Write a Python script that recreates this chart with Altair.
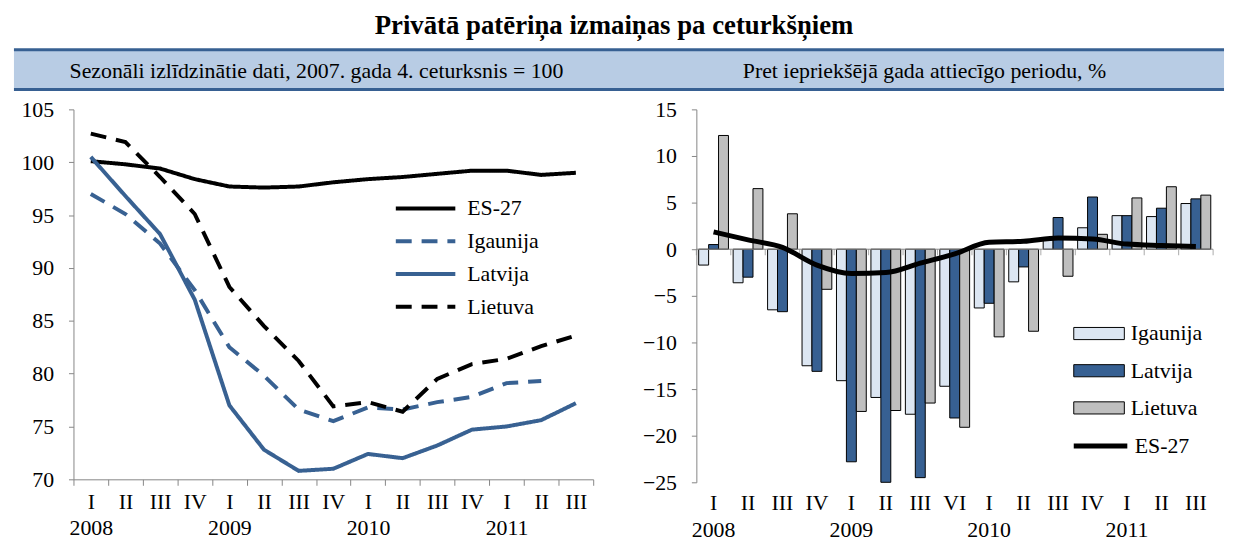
import altair as alt
import pandas as pd

FONT = "Liberation Serif"
GRAY = "#868686"
BLUE = "#386192"

# ---------------- data ----------------
years = ["2008"] * 4 + ["2009"] * 4 + ["2010"] * 4 + ["2011"] * 3
quarters_left = ["I", "II", "III", "IV", "I", "II", "III", "IV", "I", "II", "III", "IV", "I", "II", "III"]
quarters_right = ["I", "II", "III", "IV", "I", "II", "III", "VI", "I", "II", "III", "IV", "I", "II", "III"]

series_left = ["ES-27", "Igaunija", "Latvija", "Lietuva"]
es27_idx = [100.1, 99.8, 99.4, 98.4, 97.7, 97.6, 97.7, 98.1, 98.4, 98.6, 98.9, 99.2, 99.2, 98.8, 99.0]
igaunija_idx = [97.0, 95.1, 92.3, 87.9, 82.5, 79.8, 76.6, 75.5, 76.8, 76.6, 77.3, 77.8, 79.1, 79.3, None]
latvija_idx = [100.5, 96.8, 93.2, 87.0, 77.0, 72.8, 70.8, 71.0, 72.4, 72.0, 73.2, 74.7, 75.0, 75.6, 77.2]
lietuva_idx = [102.7, 101.9, 98.6, 95.1, 88.2, 84.5, 81.2, 76.9, 77.3, 76.4, 79.5, 80.9, 81.4, 82.6, 83.6]

series_bars = ["Igaunija", "Latvija", "Lietuva"]
igaunija_yoy = [-1.7, -3.6, -6.5, -12.5, -14.1, -15.9, -17.7, -14.7, -6.3, -3.5, 1.0, 2.3, 3.6, 3.5, 4.9]
latvija_yoy = [0.5, -3.0, -6.7, -13.1, -22.8, -25.0, -24.5, -18.1, -5.8, -1.9, 3.4, 5.6, 3.6, 4.4, 5.4]
lietuva_yoy = [12.2, 6.5, 3.8, -4.3, -17.4, -17.3, -16.5, -19.1, -9.4, -8.8, -2.9, 1.6, 5.5, 6.7, 5.8]
es27_yoy = [1.85, 1.0, 0.2, -1.7, -2.6, -2.5, -1.5, -0.5, 0.75, 0.85, 1.2, 1.1, 0.55, 0.4, 0.3]

title_text = "Privātā patēriņa izmaiņas pa ceturkšņiem"
subtitle_left = "Sezonāli izlīdzinātie dati, 2007. gada 4. ceturksnis = 100"
subtitle_right = "Pret iepriekšējā gada attiecīgo periodu, %"

# ---------------- tables ----------------
keys_left = [f"{y}|{q}" for y, q in zip(years, quarters_left)]
keys_right = [f"{y}|{q}" for y, q in zip(years, quarters_right)]

rows = []
for name, vals in zip(series_left, [es27_idx, igaunija_idx, latvija_idx, lietuva_idx]):
    for k, v in zip(keys_left, vals):
        if v is not None:
            rows.append({"key": k, "series": name, "value": v})
df_left = pd.DataFrame(rows)

rows = []
for name, vals in zip(series_bars, [igaunija_yoy, latvija_yoy, lietuva_yoy]):
    for k, v in zip(keys_right, vals):
        rows.append({"key": k, "series": name, "value": v})
df_bars = pd.DataFrame(rows)
df_es = pd.DataFrame({"key": keys_right, "series": "ES-27", "value": es27_yoy})
df_ticks = pd.DataFrame({"key": keys_right})

one = pd.DataFrame({"a": [0]})

label_expr = ("[split(datum.value,'|')[1], "
              "split(datum.value,'|')[1] == 'I' ? split(datum.value,'|')[0] : '']")

W_L, H_L = 524, 373
W_R, H_R = 521, 376
SPACING = 104
RX = W_L + SPACING  # right panel origin relative to left panel origin (legends are global)

# ---------------- left panel ----------------
leg_left = alt.Legend(title=None, orient="none", legendX=338, legendY=83,
                      symbolType="M-2,0H2", symbolSize=900, symbolStrokeWidth=4,
                      labelFont=FONT, labelFontSize=22, labelColor="black",
                      labelOffset=25, rowPadding=5, padding=0)

lines = alt.Chart(df_left).mark_line(strokeWidth=4).encode(
    x=alt.X("key:N", scale=alt.Scale(type="band", domain=keys_left, paddingInner=0, paddingOuter=0),
            axis=alt.Axis(title=None, labelExpr=label_expr, labelAngle=0, tickBand="extent",
                          tickSize=6, labelPadding=6, labelLineHeight=27)),
    y=alt.Y("value:Q", scale=alt.Scale(domain=[70, 105], nice=False, zero=False),
            axis=alt.Axis(title=None, values=[70, 75, 80, 85, 90, 95, 100, 105],
                          tickSize=5, labelPadding=15)),
    color=alt.Color("series:N", scale=alt.Scale(domain=series_left,
                                                range=["black", BLUE, BLUE, "black"]),
                    legend=leg_left),
    strokeDash=alt.StrokeDash("series:N", scale=alt.Scale(domain=series_left,
                                                          range=[[1, 0], [16, 10], [1, 0], [16, 10]]),
                              legend=leg_left),
    order=alt.Order("key:N"),
)

band = alt.Chart(one).mark_rect(fill="#B8CCE4").encode(
    x=alt.value(-60), x2=alt.value(1160), y=alt.value(-60), y2=alt.value(-20))
rule_top = alt.Chart(one).mark_rule(color="#376092", strokeWidth=3).encode(
    x=alt.value(-60), x2=alt.value(1160), y=alt.value(-60))
rule_bot = alt.Chart(one).mark_rule(color="#376092", strokeWidth=3).encode(
    x=alt.value(-60), x2=alt.value(1160), y=alt.value(-20))
sub_l = alt.Chart(one).mark_text(text=subtitle_left, font=FONT, fontSize=22, color="black",
                                 align="center", baseline="alphabetic").encode(
    x=alt.value(245), y=alt.value(-32))
sub_r = alt.Chart(one).mark_text(text=subtitle_right, font=FONT, fontSize=22, color="black",
                                 align="center", baseline="alphabetic").encode(
    x=alt.value(858), y=alt.value(-32))
ttl = alt.Chart(one).mark_text(text=title_text, font=FONT, fontSize=27, fontWeight="bold",
                               color="black", align="center", baseline="alphabetic").encode(
    x=alt.value(545), y=alt.value(-75.5))

left = alt.layer(band, rule_top, rule_bot, sub_l, sub_r, ttl, lines).properties(
    width=W_L, height=H_L)

# ---------------- right panel ----------------
x_scale_r = alt.Scale(type="band", domain=keys_right, paddingInner=0, paddingOuter=0)
x_axis_r = alt.Axis(title=None, labelExpr=label_expr, labelAngle=0, ticks=False,
                    tickSize=0, domain=False, labelPadding=10, labelLineHeight=28)
y_right = alt.Y("value:Q", scale=alt.Scale(domain=[-25, 15], nice=False),
                axis=alt.Axis(title=None, values=list(range(-25, 20, 5)), tickSize=5,
                              labelPadding=15))

bars = alt.Chart(df_bars).mark_bar(stroke="black", strokeWidth=1).encode(
    x=alt.X("key:N", scale=x_scale_r, axis=x_axis_r),
    xOffset=alt.XOffset("series:N", scale=alt.Scale(domain=series_bars, paddingInner=0,
                                                    paddingOuter=0.235)),
    y=y_right,
    fill=alt.Fill("series:N", scale=alt.Scale(domain=series_bars,
                                              range=["#DCE6F2", "#376092", "#BFBFBF"]),
                  legend=alt.Legend(title=None, orient="none", legendX=RX + 380, legendY=200,
                                    symbolType="M-1,-0.24H1V0.24H-1Z", symbolSize=2601,
                                    symbolStrokeColor="black", symbolStrokeWidth=1,
                                    labelFont=FONT, labelFontSize=22, labelColor="black",
                                    labelOffset=6, rowPadding=0.5, padding=0)),
)

zero_line = alt.Chart(one).mark_rule(color=GRAY, strokeWidth=1).encode(
    x=alt.value(0), x2=alt.value(W_R), y=alt.datum(0))

zero_ticks = alt.Chart(df_ticks).mark_tick(orient="vertical", size=6, thickness=1,
                                           color=GRAY, yOffset=3).encode(
    x=alt.X("key:N", scale=x_scale_r, axis=x_axis_r, bandPosition=0),
    y=alt.datum(0))
end_tick = alt.Chart(one).mark_tick(orient="vertical", size=6, thickness=1,
                                    color=GRAY, yOffset=3).encode(
    x=alt.value(W_R), y=alt.datum(0))

es_line = alt.Chart(df_es).mark_line(strokeWidth=5, interpolate="monotone").encode(
    x=alt.X("key:N", scale=x_scale_r, axis=x_axis_r),
    y=y_right,
    stroke=alt.Stroke("series:N", scale=alt.Scale(domain=["ES-27"], range=["black"]),
                      legend=alt.Legend(title=None, orient="none", legendX=RX + 378, legendY=310,
                                        symbolType="stroke", symbolSize=2916,
                                        symbolStrokeWidth=5, labelFont=FONT, labelFontSize=22,
                                        labelColor="black", labelOffset=5, padding=0)),
    order=alt.Order("key:N"),
)

right = alt.layer(bars, zero_line, zero_ticks, end_tick, es_line).properties(
    width=W_R, height=H_R)

chart = alt.hconcat(left, right, spacing=SPACING, bounds="flush").properties(
    padding={"left": 4, "top": 2, "right": 0, "bottom": 0}
).configure_view(stroke=None).configure_axis(
    labelFont=FONT, labelFontSize=22, labelColor="black",
    domainColor=GRAY, tickColor=GRAY, grid=False,
)

chart.save("out.html", embed_options={"renderer": "svg", "actions": False})
